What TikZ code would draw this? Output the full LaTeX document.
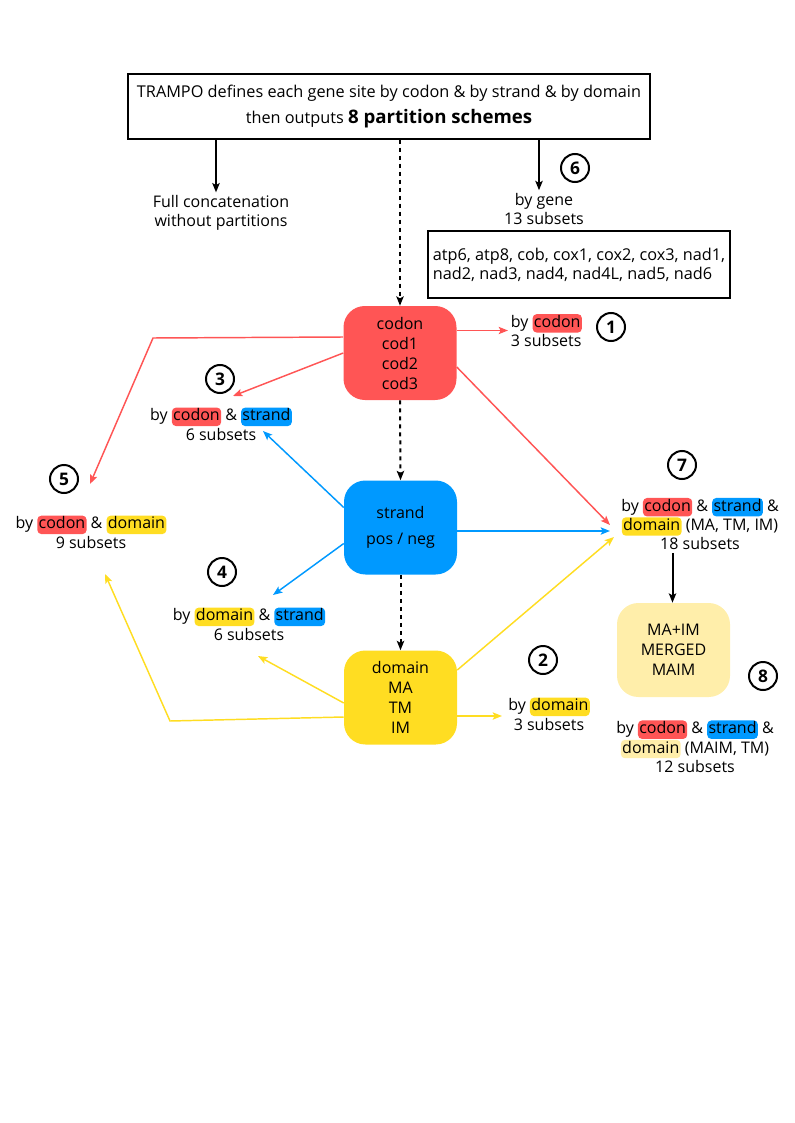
\documentclass[tikz,border=0pt]{standalone}
\usepackage{fontspec}
\setmainfont{Open Sans}
\usepackage{xcolor}
\usetikzlibrary{arrows.meta,positioning,calc}
\definecolor{codonred}{HTML}{FF5555}
\definecolor{strandblue}{HTML}{0099FF}
\definecolor{domainyellow}{HTML}{FFDD22}
\definecolor{mergedyellow}{HTML}{FFEEAA}
\newcommand{\hlw}[2]{\tikz[baseline=(hw.base)]\node[fill=#1, rounded corners=3pt, inner xsep=1pt, inner ysep=0.3pt, text height=9.6pt, text depth=3.6pt] (hw) {#2};}

\begin{document}
\begin{tikzpicture}[
    x=0.75pt, y=-0.75pt,
    >={Stealth[length=7pt,width=5.5pt,inset=1.5pt]},
    topbox/.style={draw, line width=0.8pt, minimum width=391.5pt, minimum height=48.75pt, align=center, font=\fontsize{12.2}{15}\selectfont},
    genebox/.style={draw, line width=0.8pt, minimum width=226.5pt, minimum height=50.25pt, align=left, font=\fontsize{12.2}{14.2}\selectfont},
    sitebox/.style={rounded corners=16pt, minimum width=84.75pt, minimum height=70.5pt, align=center, font=\fontsize{12}{15}\selectfont},
    lbl/.style={align=center, inner sep=2pt, font=\fontsize{12}{14.5}\selectfont},
    numc/.style={circle, draw, line width=1.5pt, minimum size=21pt, inner sep=0pt, font=\fontsize{13}{13}\selectfont\bfseries},
    blackarrow/.style={->, line width=1.5pt},
    dotarrow/.style={->, line width=1.5pt, dash pattern=on 3pt off 3pt},
    redarrow/.style={->, line width=1.1pt, draw=codonred},
    bluearrow/.style={->, line width=1.1pt, draw=strandblue},
    yellowarrow/.style={->, line width=1.1pt, draw=domainyellow}
]
\useasboundingbox (0,0) rectangle (794,1123);

\node[topbox] (top) at (389,106.5) {TRAMPO defines each gene site by codon \& by strand \& by domain\\[5pt]then outputs {\fontsize{14}{16}\selectfont\bfseries 8 partition schemes}};
\node[lbl] (fullcat) at (221,213) {Full concatenation\\without partitions};
\node[lbl] (s6) at (544,209) {by gene\\13 subsets};
\node[genebox] (genes) at (579,264.5) {atp6, atp8, cob, cox1, cox2, cox3, nad1,\\nad2, nad3, nad4, nad4L, nad5, nad6};

\node[sitebox, fill=codonred] (codon) at (400,353) {codon\\cod1\\cod2\\cod3};
\node[sitebox, fill=strandblue] (strand) at (400.5,527.5) {strand\\[4pt]pos / neg};
\node[sitebox, fill=domainyellow] (domain) at (400.5,697.5) {domain\\MA\\TM\\IM};
\node[sitebox, fill=mergedyellow] (merged) at (673.5,650) {MA+IM\\MERGED\\MAIM};

% partition schemes
\node[lbl, anchor=west, align=left] (s1) at (508,330.5) {by \hlw{codonred}{codon}\\3 subsets};
\node[lbl] (s2) at (549,714) {by \hlw{domainyellow}{domain}\\3 subsets};
\node[lbl] (s3) at (221,424) {by \hlw{codonred}{codon} \& \hlw{strandblue}{strand}\\6 subsets};
\node[lbl] (s4) at (249,624) {by \hlw{domainyellow}{domain} \& \hlw{strandblue}{strand}\\6 subsets};
\node[lbl] (s5) at (91,532) {by \hlw{codonred}{codon} \& \hlw{domainyellow}{domain}\\9 subsets};
\node[lbl] (s7) at (700,524) {by \hlw{codonred}{codon} \& \hlw{strandblue}{strand} \&\\\hlw{domainyellow}{domain} (MA, TM, IM)\\18 subsets};
\node[lbl] (s8) at (695,746.5) {by \hlw{codonred}{codon} \& \hlw{strandblue}{strand} \&\\\hlw{mergedyellow}{domain} (MAIM, TM)\\12 subsets};

\node[numc] (n1) at (611,327) {1};
\node[numc] (n2) at (543,660) {2};
\node[numc] (n3) at (220,379) {3};
\node[numc] (n4) at (222,572) {4};
\node[numc] (n5) at (64,479) {5};
\node[numc] (n6) at (575,168) {6};
\node[numc] (n7) at (682,465) {7};
\node[numc] (n8) at (763,676) {8};

\coordinate (bendr) at (153,338);
\coordinate (bendy) at (170,721);

\draw[blackarrow] ($(top.south -| fullcat.north)+(-5,0)$) -- ($(fullcat.north)+(-5,0)$);
\draw[blackarrow] ($(top.south -| s6.north)+(-5,0)$) -- ($(s6.north)+(-5,0)$);
\draw[dotarrow] (top.south -| codon.north) -- (codon.north);
\draw[dotarrow] (codon.south) -- (strand.north);
\draw[dotarrow] (strand.south) -- (domain.north);

\draw[redarrow] (codon.east |- s1.west) -- (s1.west);
\draw[redarrow] (codon.west) -- ($(s3)+(12,-28)$);
\draw[redarrow] ($(codon.west)+(0,-16)$) -- (bendr) -- ($(s5)+(-1,-48)$);
\draw[redarrow] ($(codon.east)+(0,14)$) -- ($(s7)+(-90,1)$);

\draw[bluearrow] ($(strand.west)+(0,-20)$) -- ($(s3)+(42,7)$);
\draw[bluearrow] ($(strand.west)+(0,16)$) -- ($(s4)+(24,-29)$);
\draw[bluearrow] ($(strand.east)+(0,3.5)$) -- ($(s7)+(-90,7)$);

\draw[yellowarrow] ($(domain.west)+(0,5.5)$) -- ($(s4)+(9,32)$);
\draw[yellowarrow] ($(domain.west)+(0,19.5)$) -- (bendy) -- ($(s5)+(14,42)$);
\draw[yellowarrow] ($(domain.east)+(0,18.5)$) -- ($(s2)+(-47,2)$);
\draw[yellowarrow] ($(domain.east)+(0,-27.5)$) -- ($(s7)+(-86,13)$);

\draw[blackarrow] ($(merged.north |- s7.south)+(-1,0)$) -- ($(merged.north)+(-1,0)$);
\end{tikzpicture}
\end{document}
